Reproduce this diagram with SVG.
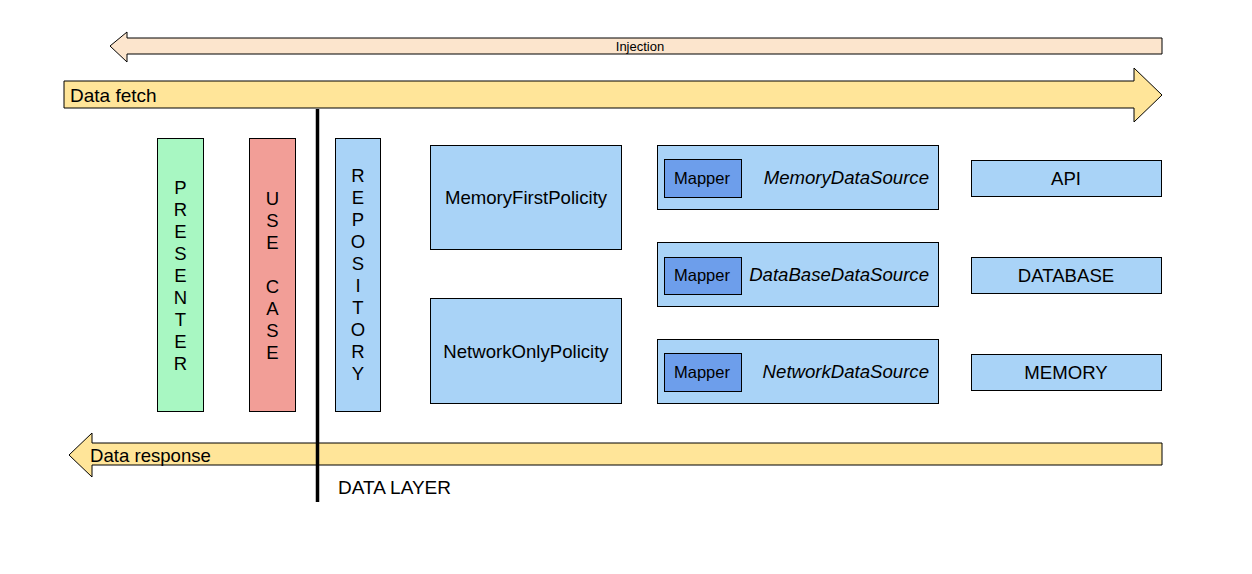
<svg xmlns="http://www.w3.org/2000/svg" width="1252" height="574" viewBox="0 0 1252 574">
<style>
text{font-family:"Liberation Sans",Arial,sans-serif;fill:#000}
.arr{stroke:#000;stroke-width:1;stroke-linejoin:miter}
.box{stroke:#000;stroke-width:1}
.blue{fill:#a9d3f7}
.map{fill:#6d9eeb}
.lbl{font-size:18.6px;text-anchor:middle}
.ital{font-size:18.6px;font-style:italic;text-anchor:end}
.vert{font-size:18.5px;text-anchor:middle}
.mp{font-size:16.5px;text-anchor:middle}
</style>
<rect width="1252" height="574" fill="#fff"/>
<g id="injection">
<polygon class="arr" fill="#fce5cd" points="1162,38 1162,54 127,54 127,62 110,46 127,32 127,38"/>
<text x="640" y="51" font-size="13" text-anchor="middle">Injection</text>
</g>
<g id="data-fetch">
<polygon class="arr" fill="#ffe599" points="64,81 1134,81 1134,68 1162,95 1134,122 1134,108 64,108"/>
<text x="70" y="102" font-size="19">Data fetch</text>
</g>
<g id="data-response">
<polygon class="arr" fill="#ffe599" points="1162,443 1162,465 92,465 92,477 69,455 92,433 92,443"/>
<text x="90" y="462" font-size="18.6">Data response</text>
</g>
<g id="presenter">
<rect class="box" x="157.5" y="138.5" width="46" height="273" fill="#a8f7c2"/>
<text class="vert"><tspan x="180.5" y="194">P</tspan><tspan x="180.5" y="216">R</tspan><tspan x="180.5" y="238">E</tspan><tspan x="180.5" y="260">S</tspan><tspan x="180.5" y="282">E</tspan><tspan x="180.5" y="304">N</tspan><tspan x="180.5" y="326">T</tspan><tspan x="180.5" y="348">E</tspan><tspan x="180.5" y="370">R</tspan></text>
</g>
<g id="use-case">
<rect class="box" x="249.5" y="138.5" width="46" height="273" fill="#f29e97"/>
<text class="vert"><tspan x="272.5" y="205">U</tspan><tspan x="272.5" y="227">S</tspan><tspan x="272.5" y="249">E</tspan><tspan x="272.5" y="293">C</tspan><tspan x="272.5" y="315">A</tspan><tspan x="272.5" y="337">S</tspan><tspan x="272.5" y="359">E</tspan></text>
</g>
<g id="repository">
<rect class="box blue" x="335.5" y="138.5" width="45" height="273"/>
<text class="vert"><tspan x="358" y="182">R</tspan><tspan x="358" y="204">E</tspan><tspan x="358" y="226">P</tspan><tspan x="358" y="248">O</tspan><tspan x="358" y="270">S</tspan><tspan x="358" y="292">I</tspan><tspan x="358" y="314">T</tspan><tspan x="358" y="336">O</tspan><tspan x="358" y="358">R</tspan><tspan x="358" y="380">Y</tspan></text>
</g>
<g id="memory-first-policity">
<rect class="box blue" x="430.5" y="145.5" width="191" height="104"/>
<text class="lbl" x="526" y="204">MemoryFirstPolicity</text>
</g>
<g id="network-only-policity">
<rect class="box blue" x="430.5" y="298.5" width="191" height="105"/>
<text class="lbl" x="526" y="358">NetworkOnlyPolicity</text>
</g>
<g id="memory-data-source">
<rect class="box blue" x="657.5" y="145.5" width="281" height="64"/>
<rect class="box map" x="664.5" y="159.5" width="77" height="38"/>
<text class="mp" x="702" y="184">Mapper</text>
<text class="ital" x="929" y="184">MemoryDataSource</text>
</g>
<g id="database-data-source">
<rect class="box blue" x="657.5" y="242.5" width="281" height="64"/>
<rect class="box map" x="664.5" y="257.5" width="77" height="37"/>
<text class="mp" x="702" y="281">Mapper</text>
<text class="ital" x="929" y="281">DataBaseDataSource</text>
</g>
<g id="network-data-source">
<rect class="box blue" x="657.5" y="339.5" width="281" height="64"/>
<rect class="box map" x="664.5" y="353.5" width="77" height="38"/>
<text class="mp" x="702" y="378">Mapper</text>
<text class="ital" x="929" y="378">NetworkDataSource</text>
</g>
<g id="api">
<rect class="box blue" x="971.5" y="160.5" width="190" height="36"/>
<text class="lbl" x="1066" y="185">API</text>
</g>
<g id="database">
<rect class="box blue" x="971.5" y="257.5" width="190" height="36"/>
<text class="lbl" x="1066" y="282">DATABASE</text>
</g>
<g id="memory">
<rect class="box blue" x="971.5" y="354.5" width="190" height="36"/>
<text class="lbl" x="1066" y="379">MEMORY</text>
</g>
<g id="connectors">
<line x1="317.5" y1="109" x2="317.5" y2="502" stroke="#000" stroke-width="3.5"/>
</g>
<g id="data-layer">
<text x="338" y="494" font-size="19">DATA LAYER</text>
</g>
</svg>
